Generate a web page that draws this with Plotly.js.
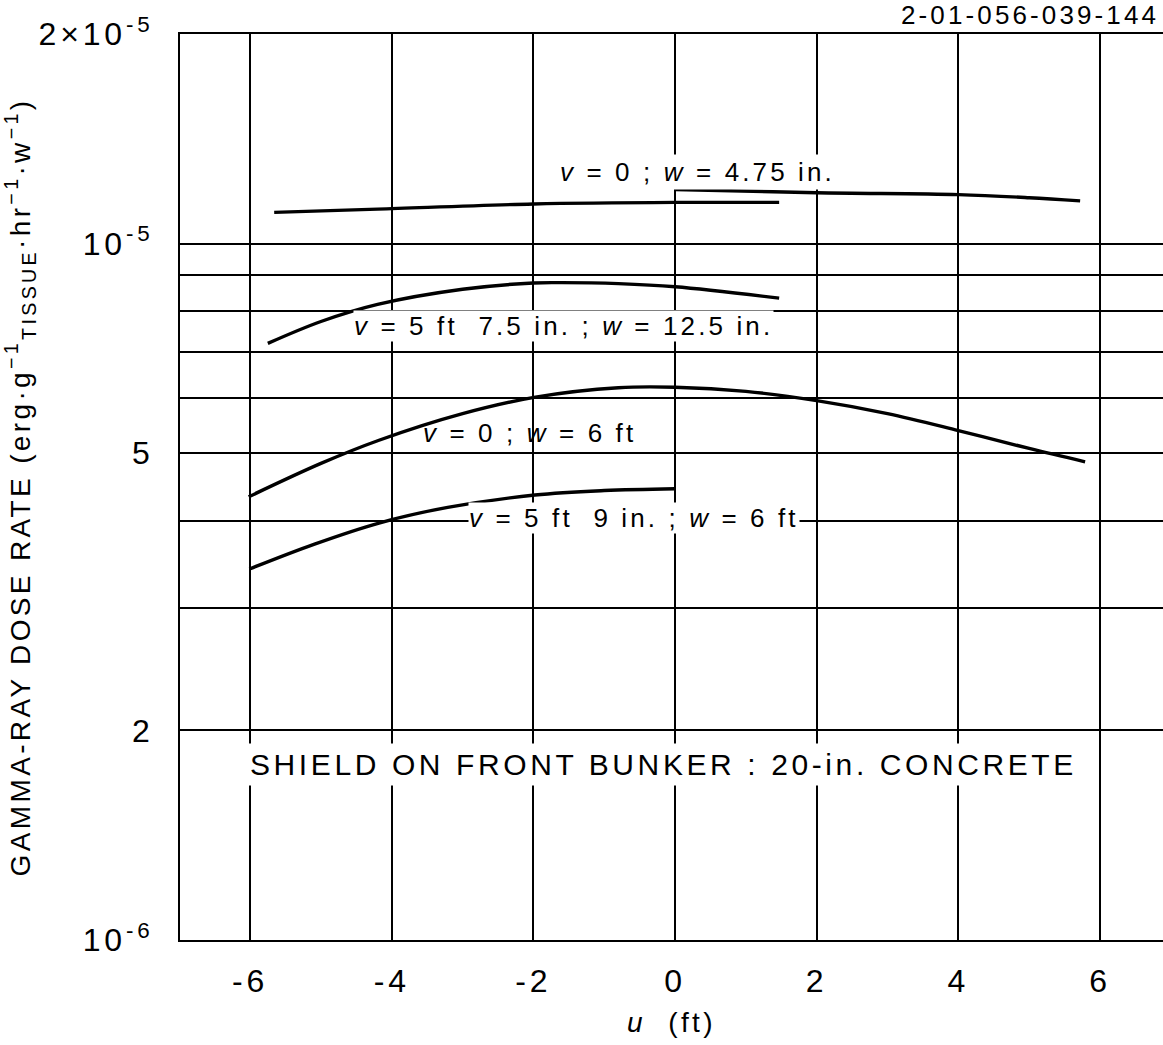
<!DOCTYPE html>
<html>
<head>
<meta charset="utf-8">
<script src="https://cdn.plot.ly/plotly-3.0.1.min.js"></script>
<style>
  html, body { margin: 0; padding: 0; background: #fff; }
  #chart { width: 1163px; height: 1045px; }
  text { letter-spacing: 0.12em; }
</style>
</head>
<body>
<div id="chart"></div>
<script>
// ---- data ----
// v = 0 ; w = 4.75 in.  (two drawn segments)
const u_w475_left  = [-5.66, -4.2, -2.0, 0.0, 1.47];
const d_w475_left  = [1.109e-5, 1.121e-5, 1.140e-5, 1.146e-5, 1.146e-5];
const u_w475_right = [0.0, 2.0, 4.0, 5.0, 5.72];
const d_w475_right = [1.196e-5, 1.183e-5, 1.176e-5, 1.164e-5, 1.152e-5];

// v = 5 ft 7.5 in. ; w = 12.5 in.
const u_w125 = [-5.75, -5.0, -4.2, -3.0, -2.0, -1.6, -0.8, 0.0, 1.47];
const d_w125 = [7.19e-6, 7.73e-6, 8.18e-6, 8.60e-6, 8.78e-6, 8.79e-6, 8.76e-6, 8.67e-6, 8.35e-6];

// v = 0 ; w = 6 ft
const u_v0_w6 = [-6.02, -5.0, -4.18, -3.0, -1.97, -0.8, 0.0, 1.0, 2.0, 3.0, 4.0, 5.0, 5.79];
const d_v0_w6 = [4.33e-6, 4.835e-6, 5.22e-6, 5.70e-6, 6.02e-6, 6.21e-6, 6.22e-6, 6.135e-6, 5.95e-6, 5.70e-6, 5.39e-6, 5.08e-6, 4.86e-6];

// v = 5 ft 9 in. ; w = 6 ft
const u_v59_w6 = [-6.01, -5.1, -4.18, -3.21, -1.98, -1.0, 0.0];
const d_v59_w6 = [3.41e-6, 3.70e-6, 3.97e-6, 4.18e-6, 4.355e-6, 4.42e-6, 4.447e-6];

// axis ticks
const xTickVals = [-6, -4, -2, 0, 2, 4, 6];
const xTickText = ['-6', '-4', '-2', '0', '2', '4', '6'];
const yTickVals = [1e-6, 2e-6, 5e-6, 1e-5, 2e-5];
const yTickText = ['10<sup>-6</sup>', '2', '5', '10<sup>-5</sup>', '2\u00d710<sup>-5</sup>'];
const yMinorVals = [3e-6, 4e-6, 6e-6, 7e-6, 8e-6, 9e-6];

// ---- drawing ----
const FONT = 'Liberation Sans, Arial, sans-serif';
const lineStyle = { color: '#000', width: 3.4, shape: 'spline', smoothing: 1 };

function curve(u, d, name) {
  return { x: u, y: d, type: 'scatter', mode: 'lines', name: name,
           line: lineStyle, hoverinfo: 'x+y' };
}

const traces = [
  curve(u_w475_left,  d_w475_left,  'v=0; w=4.75 in. (a)'),
  curve(u_w475_right, d_w475_right, 'v=0; w=4.75 in. (b)'),
  curve(u_w125,  d_w125,  'v=5 ft 7.5 in.; w=12.5 in.'),
  curve(u_v0_w6, d_v0_w6, 'v=0; w=6 ft'),
  curve(u_v59_w6, d_v59_w6, 'v=5 ft 9 in.; w=6 ft')
];

function label(text, x, y, size, bg, pad) {
  return { text: text, x: x, y: Math.log10(y), xref: 'x', yref: 'y',
           showarrow: false, font: { family: FONT, size: size, color: '#000' },
           bgcolor: bg ? '#fff' : 'rgba(0,0,0,0)', borderpad: pad };
}

const layout = {
  width: 1163, height: 1045,
  margin: { l: 180, r: 0, t: 34, b: 105 },
  paper_bgcolor: '#fff', plot_bgcolor: '#fff',
  showlegend: false,
  font: { family: FONT, color: '#000' },
  xaxis: {
    range: [-6.99, 6.89],
    tickmode: 'array', tickvals: xTickVals, ticktext: xTickText,
    showgrid: true, gridcolor: '#000', gridwidth: 2,
    zeroline: false,
    showline: true, linecolor: '#000', linewidth: 2, mirror: true,
    ticks: '', ticklabelstandoff: 12,
    tickfont: { family: FONT, size: 32, color: '#000' },
    title: { text: '<i>u</i>  (ft)', font: { family: FONT, size: 28, color: '#000' }, standoff: 14 }
  },
  yaxis: {
    type: 'log',
    range: [-6, Math.log10(2e-5)],
    tickmode: 'array', tickvals: yTickVals, ticktext: yTickText,
    showgrid: true, gridcolor: '#000', gridwidth: 2,
    minor: { tickmode: 'array', tickvals: yMinorVals, showgrid: true, gridcolor: '#000', gridwidth: 2, ticks: '' },
    zeroline: false,
    showline: true, linecolor: '#000', linewidth: 2,
    ticks: '', ticklabelstandoff: 18,
    tickfont: { family: FONT, size: 32, color: '#000' },
    title: { text: 'GAMMA-RAY DOSE RATE (erg\u00b7g<sup>\u22121</sup><sub>TISSUE</sub>\u00b7hr<sup>\u22121</sup>\u00b7w<sup>\u22121</sup>)',
             font: { family: FONT, size: 28, color: '#000' }, standoff: 14 }
  },
  annotations: [
    label('<i>v</i> = 0 ; <i>w</i> = 4.75 in.', 0.31, 1.268e-5, 26, true, 2),
    label('<i>v</i> = 5 ft  7.5 in. ; <i>w</i> = 12.5 in.', -1.58, 7.62e-6, 26, true, 0),
    label('<i>v</i> = 0 ; <i>w</i> = 6 ft', -2.06, 5.34e-6, 26, false, 0),
    label('<i>v</i> = 5 ft  9 in. ; <i>w</i> = 6 ft', -0.58, 4.03e-6, 26, true, 0),
    label('SHIELD ON FRONT BUNKER : 20-in. CONCRETE', -0.17, 1.789e-6, 30, true, 4),
    { text: '2-01-056-039-144', xref: 'paper', yref: 'paper', x: 0.998, y: 1.021,
      xanchor: 'right', yanchor: 'middle', showarrow: false,
      font: { family: FONT, size: 26, color: '#000' } }
  ]
};

Plotly.newPlot('chart', traces, layout, { displayModeBar: false, staticPlot: true });
</script>
</body>
</html>
